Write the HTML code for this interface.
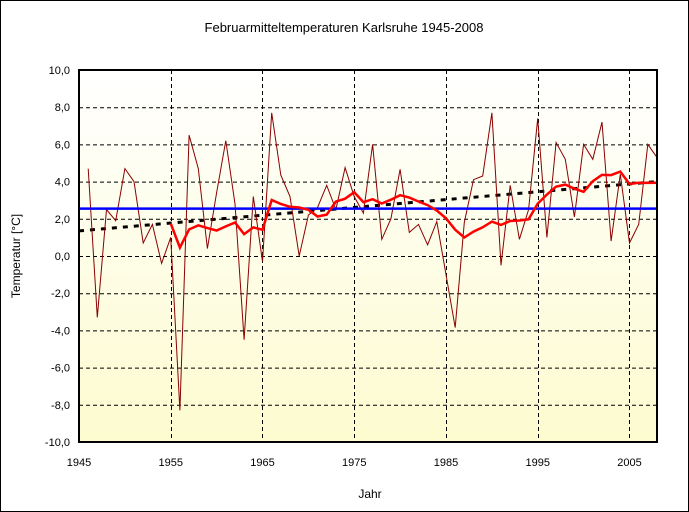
<!DOCTYPE html>
<html><head><meta charset="utf-8"><style>
html,body{margin:0;padding:0;background:#fff}
svg{display:block;font-family:"Liberation Sans",Arial,sans-serif}
</style></head><body>
<svg id="s" width="689" height="512" xmlns="http://www.w3.org/2000/svg">
<defs><linearGradient id="g" x1="0" y1="0" x2="0" y2="1">
<stop offset="0" stop-color="#ffffff"/><stop offset="1" stop-color="#fdfbcf"/></linearGradient></defs>
<rect x="0.5" y="0.5" width="688" height="511" fill="#fff" stroke="#000"/>
<text x="344" y="32" font-size="13" text-anchor="middle">Februarmitteltemperaturen Karlsruhe 1945-2008</text>
<rect x="79" y="70" width="578" height="372" fill="url(#g)"/>
<g id="grid" stroke="#000" stroke-dasharray="4,3" stroke-width="1"></g>
<g id="lbl" font-size="11"></g>
<g id="data"></g>
<rect x="79" y="70" width="578" height="372" fill="none" stroke="#000" stroke-width="2"/>
<text x="370" y="498" font-size="12" text-anchor="middle">Jahr</text>
<text transform="translate(20,256) rotate(-90)" font-size="12" text-anchor="middle">Temperatur [°C]</text>
</svg>
<script>
var X=function(y){return 79+(y-1945)*578/63;},Y=function(t){return 256-t*18.6;};
var ns="http://www.w3.org/2000/svg";
function el(p,n,a,t){var e=document.createElementNS(ns,n);for(var k in a)e.setAttribute(k,a[k]);if(t!=null)e.textContent=t;document.getElementById(p).appendChild(e);}
for(var t=-10;t<=10;t+=2){var y=Y(t);if(t>-10&&t<10)el("grid","line",{x1:79,x2:657,y1:y+0.5,y2:y+0.5});
el("lbl","text",{x:70,y:y+4,"text-anchor":"end"},t.toFixed(1).replace(".",",").replace("-0,0","0,0"));}
for(var yr=1945;yr<=2005;yr+=10){var x=Math.round(X(yr))+0.5;if(yr>1945)el("grid","line",{x1:x,x2:x,y1:70,y2:442});
el("lbl","text",{x:X(yr),y:466,"text-anchor":"middle"},yr);}
var d=[4.7,-3.3,2.5,1.9,4.7,4.0,0.7,1.7,-0.4,1.0,-8.3,6.5,4.7,0.4,3.4,6.2,2.8,-4.5,3.2,-0.3,
7.7,4.35,3.2,0.0,2.2,2.6,3.8,2.5,4.75,3.2,2.3,6.0,0.9,2.0,4.66,1.27,1.7,0.6,1.85,-1.0,-3.85,
1.8,4.1,4.3,7.7,-0.5,3.8,0.9,2.5,7.4,1.0,6.1,5.2,2.1,6.0,5.2,7.2,0.8,4.4,0.7,1.7,6.0,5.3];
var p=d.map(function(v,i){return X(1946+i).toFixed(1)+","+Y(v).toFixed(1);}).join(" ");
el("data","line",{x1:X(1945),y1:Y(1.35),x2:X(2008),y2:Y(4.0),stroke:"#000","stroke-width":3,"stroke-dasharray":"5,6"});
el("data","polyline",{points:p,fill:"none",stroke:"#8b0000","stroke-width":1});
el("data","line",{x1:79,x2:657,y1:Y(2.55),y2:Y(2.55),stroke:"#0000ff","stroke-width":2.5});
var m=[];for(var i=9;i<d.length;i++){var s=0;for(var j=i-9;j<=i;j++)s+=d[j];m.push(X(1946+i).toFixed(1)+","+Y(s/10).toFixed(1));}
el("data","polyline",{points:m.join(" "),fill:"none",stroke:"#ff0000","stroke-width":2.5});
</script>
</body></html>
